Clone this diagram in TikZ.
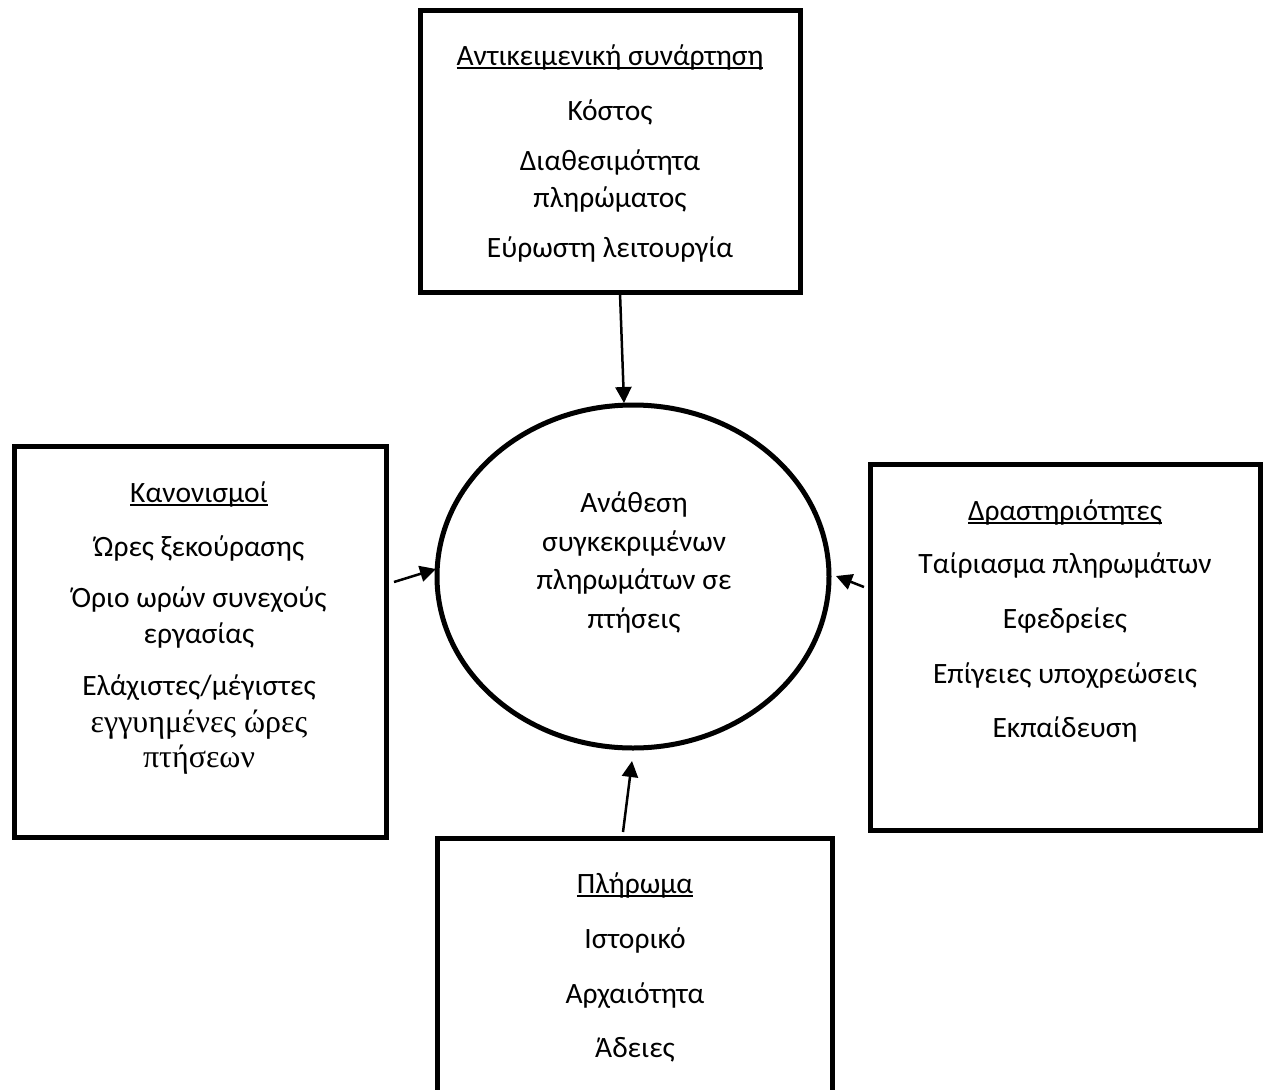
\documentclass[tikz,border=0pt]{standalone}
\usepackage{fontspec}
\setmainfont{Carlito}
\newfontfamily\serifgr{Liberation Serif}
\usetikzlibrary{shapes.geometric,arrows.meta}
\newcommand\myul[1]{\setbox0\hbox{#1}\rlap{\rule[-3.5pt]{\wd0}{1.6pt}}\box0}
\begin{document}
\begin{tikzpicture}[x=1pt,y=-1pt,
  box/.style={draw,line width=5pt,rectangle,inner sep=0pt,outer sep=0pt},
  ln/.style={anchor=base,inner sep=0pt,font=\fontsize{29.5}{35}\selectfont},
  lnserif/.style={ln,font=\fontsize{32}{36}\selectfont\serifgr},
  conn/.style={line width=2.5pt,-{Triangle[length=16pt,width=16pt]}}]
\useasboundingbox (0,0) rectangle (1270,1090);
% boxes
\node[box,minimum width=380pt,minimum height=282pt] (topbox) at (610,151) {};
\node[box,minimum width=372pt,minimum height=391pt] (leftbox) at (200.5,641.5) {};
\node[box,minimum width=389.5pt,minimum height=366pt] (rightbox) at (1065.25,647.5) {};
\node[box,minimum width=395pt,minimum height=253.5pt] (botbox) at (635,965.25) {};
\node[draw,line width=5pt,ellipse,minimum width=392pt,minimum height=343pt,inner sep=0pt] (center) at (633,576.5) {};
% top box text
\node[ln] (t1) at (610,65) {\myul{Αντικειμενική συνάρτηση}};
\node[ln] (t2) at (610,120) {Κόστος};
\node[ln] (t3) at (610,170) {Διαθεσιμότητα};
\node[ln] (t4) at (610,207) {πληρώματος};
\node[ln] (t5) at (610,257) {Εύρωστη λειτουργία};
% left box text
\node[ln] (l1) at (199,502) {\myul{Κανονισμοί}};
\node[ln] (l2) at (199,556) {Ώρες ξεκούρασης};
\node[ln] (l3) at (199,607) {Όριο ωρών συνεχούς};
\node[ln] (l4) at (199,643) {εργασίας};
\node[ln] (l5) at (199,695) {Ελάχιστες/μέγιστες};
\node[lnserif] (l6) at (199,732) {εγγυημένες ώρες};
\node[lnserif] (l7) at (199,767) {πτήσεων};
% right box text
\node[ln] (r1) at (1065,520) {\myul{Δραστηριότητες}};
\node[ln] (r2) at (1065,573) {Ταίριασμα πληρωμάτων};
\node[ln] (r3) at (1065,628) {Εφεδρείες};
\node[ln] (r4) at (1065,683) {Επίγειες υποχρεώσεις};
\node[ln] (r5) at (1065,737) {Εκπαίδευση};
% bottom box text
\node[ln] (b1) at (635,893) {\myul{Πλήρωμα}};
\node[ln] (b2) at (635,948) {Ιστορικό};
\node[ln] (b3) at (635,1003) {Αρχαιότητα};
\node[ln] (b4) at (635,1057) {Άδειες};
% center text
\node[ln] (c1) at (634,512) {Ανάθεση};
\node[ln] (c2) at (634,551) {συγκεκριμένων};
\node[ln] (c3) at (634,589) {πληρωμάτων σε};
\node[ln] (c4) at (634,628) {πτήσεις};
% arrow endpoints
\coordinate (ta) at (620,293);
\coordinate (tb) at (624,403);
\coordinate (la) at (394,582);
\coordinate (lb) at (436,569);
\coordinate (ra) at (864,587);
\coordinate (rb) at (836,576);
\coordinate (ba) at (623,832);
\coordinate (bb) at (632,761);
\draw[conn] (ta) -- (tb);
\draw[conn] (la) -- (lb);
\draw[conn] (ra) -- (rb);
\draw[conn] (ba) -- (bb);
\end{tikzpicture}
\end{document}
